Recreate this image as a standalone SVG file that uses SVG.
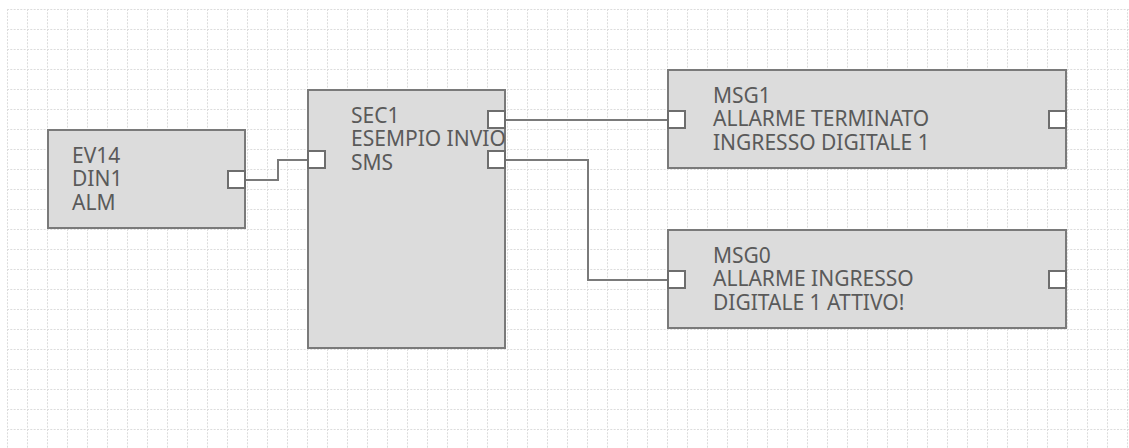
<svg xmlns="http://www.w3.org/2000/svg" width="1129" height="448" viewBox="0 0 1129 448">
<style>
.box{fill:#dcdcdc;stroke:#7a7a7a;stroke-width:2}
.port{fill:#ffffff;stroke:#6e6e6e;stroke-width:2}
.lbl{font-family:"Noto Sans","Open Sans","Liberation Sans",sans-serif;font-size:21px;fill:#5a5a5a}
.wire{fill:none;stroke:#7a7a7a;stroke-width:2}
</style>
<defs>
<pattern id="grid" patternUnits="userSpaceOnUse" x="7" y="9" width="20" height="20">
<path d="M0 0.5H20" stroke="#dcdcdc" stroke-width="1" stroke-dasharray="2 1.33"/>
<path d="M0.5 0V20" stroke="#dcdcdc" stroke-width="1" stroke-dasharray="2 1.33"/>
</pattern>
<clipPath id="c-sec1"><rect x="307" y="90" width="198" height="258"/></clipPath>
</defs>
<rect width="1129" height="448" fill="#ffffff"/>
<rect x="7" y="9" width="1122" height="439" fill="url(#grid)"/>

<g id="connectors">
<path class="wire" d="M245 180H278V160H307"/>
<path class="wire" d="M505 120H667"/>
<path class="wire" d="M505 160H588V280H667"/>
</g>

<g id="ev14">
<rect class="box" x="48" y="130" width="197" height="98"/>
<text class="lbl" x="72"><tspan x="72" y="163">EV14</tspan><tspan x="72" y="186">DIN1</tspan><tspan x="72" y="210">ALM</tspan></text>
<rect class="port" x="228" y="171" width="17" height="17"/>
</g>

<g id="sec1">
<rect class="box" x="308" y="90" width="197" height="258"/>
<text class="lbl" clip-path="url(#c-sec1)"><tspan x="351" y="123">SEC1</tspan><tspan x="351" y="146">ESEMPIO INVIO</tspan><tspan x="351" y="170">SMS</tspan></text>
<rect class="port" x="488" y="111" width="17" height="17"/>
<rect class="port" x="488" y="151" width="17" height="17"/>
<rect class="port" x="308" y="151" width="17" height="17"/>
</g>

<g id="msg1">
<rect class="box" x="668" y="70" width="398" height="98"/>
<text class="lbl"><tspan x="713" y="103">MSG1</tspan><tspan x="713" y="126">ALLARME TERMINATO</tspan><tspan x="713" y="150">INGRESSO DIGITALE 1</tspan></text>
<rect class="port" x="668" y="111" width="17" height="17"/>
<rect class="port" x="1049" y="111" width="17" height="17"/>
</g>

<g id="msg0">
<rect class="box" x="668" y="230" width="398" height="98"/>
<text class="lbl"><tspan x="713" y="263">MSG0</tspan><tspan x="713" y="286">ALLARME INGRESSO</tspan><tspan x="713" y="310">DIGITALE 1 ATTIVO!</tspan></text>
<rect class="port" x="668" y="271" width="17" height="17"/>
<rect class="port" x="1049" y="271" width="17" height="17"/>
</g>
</svg>
